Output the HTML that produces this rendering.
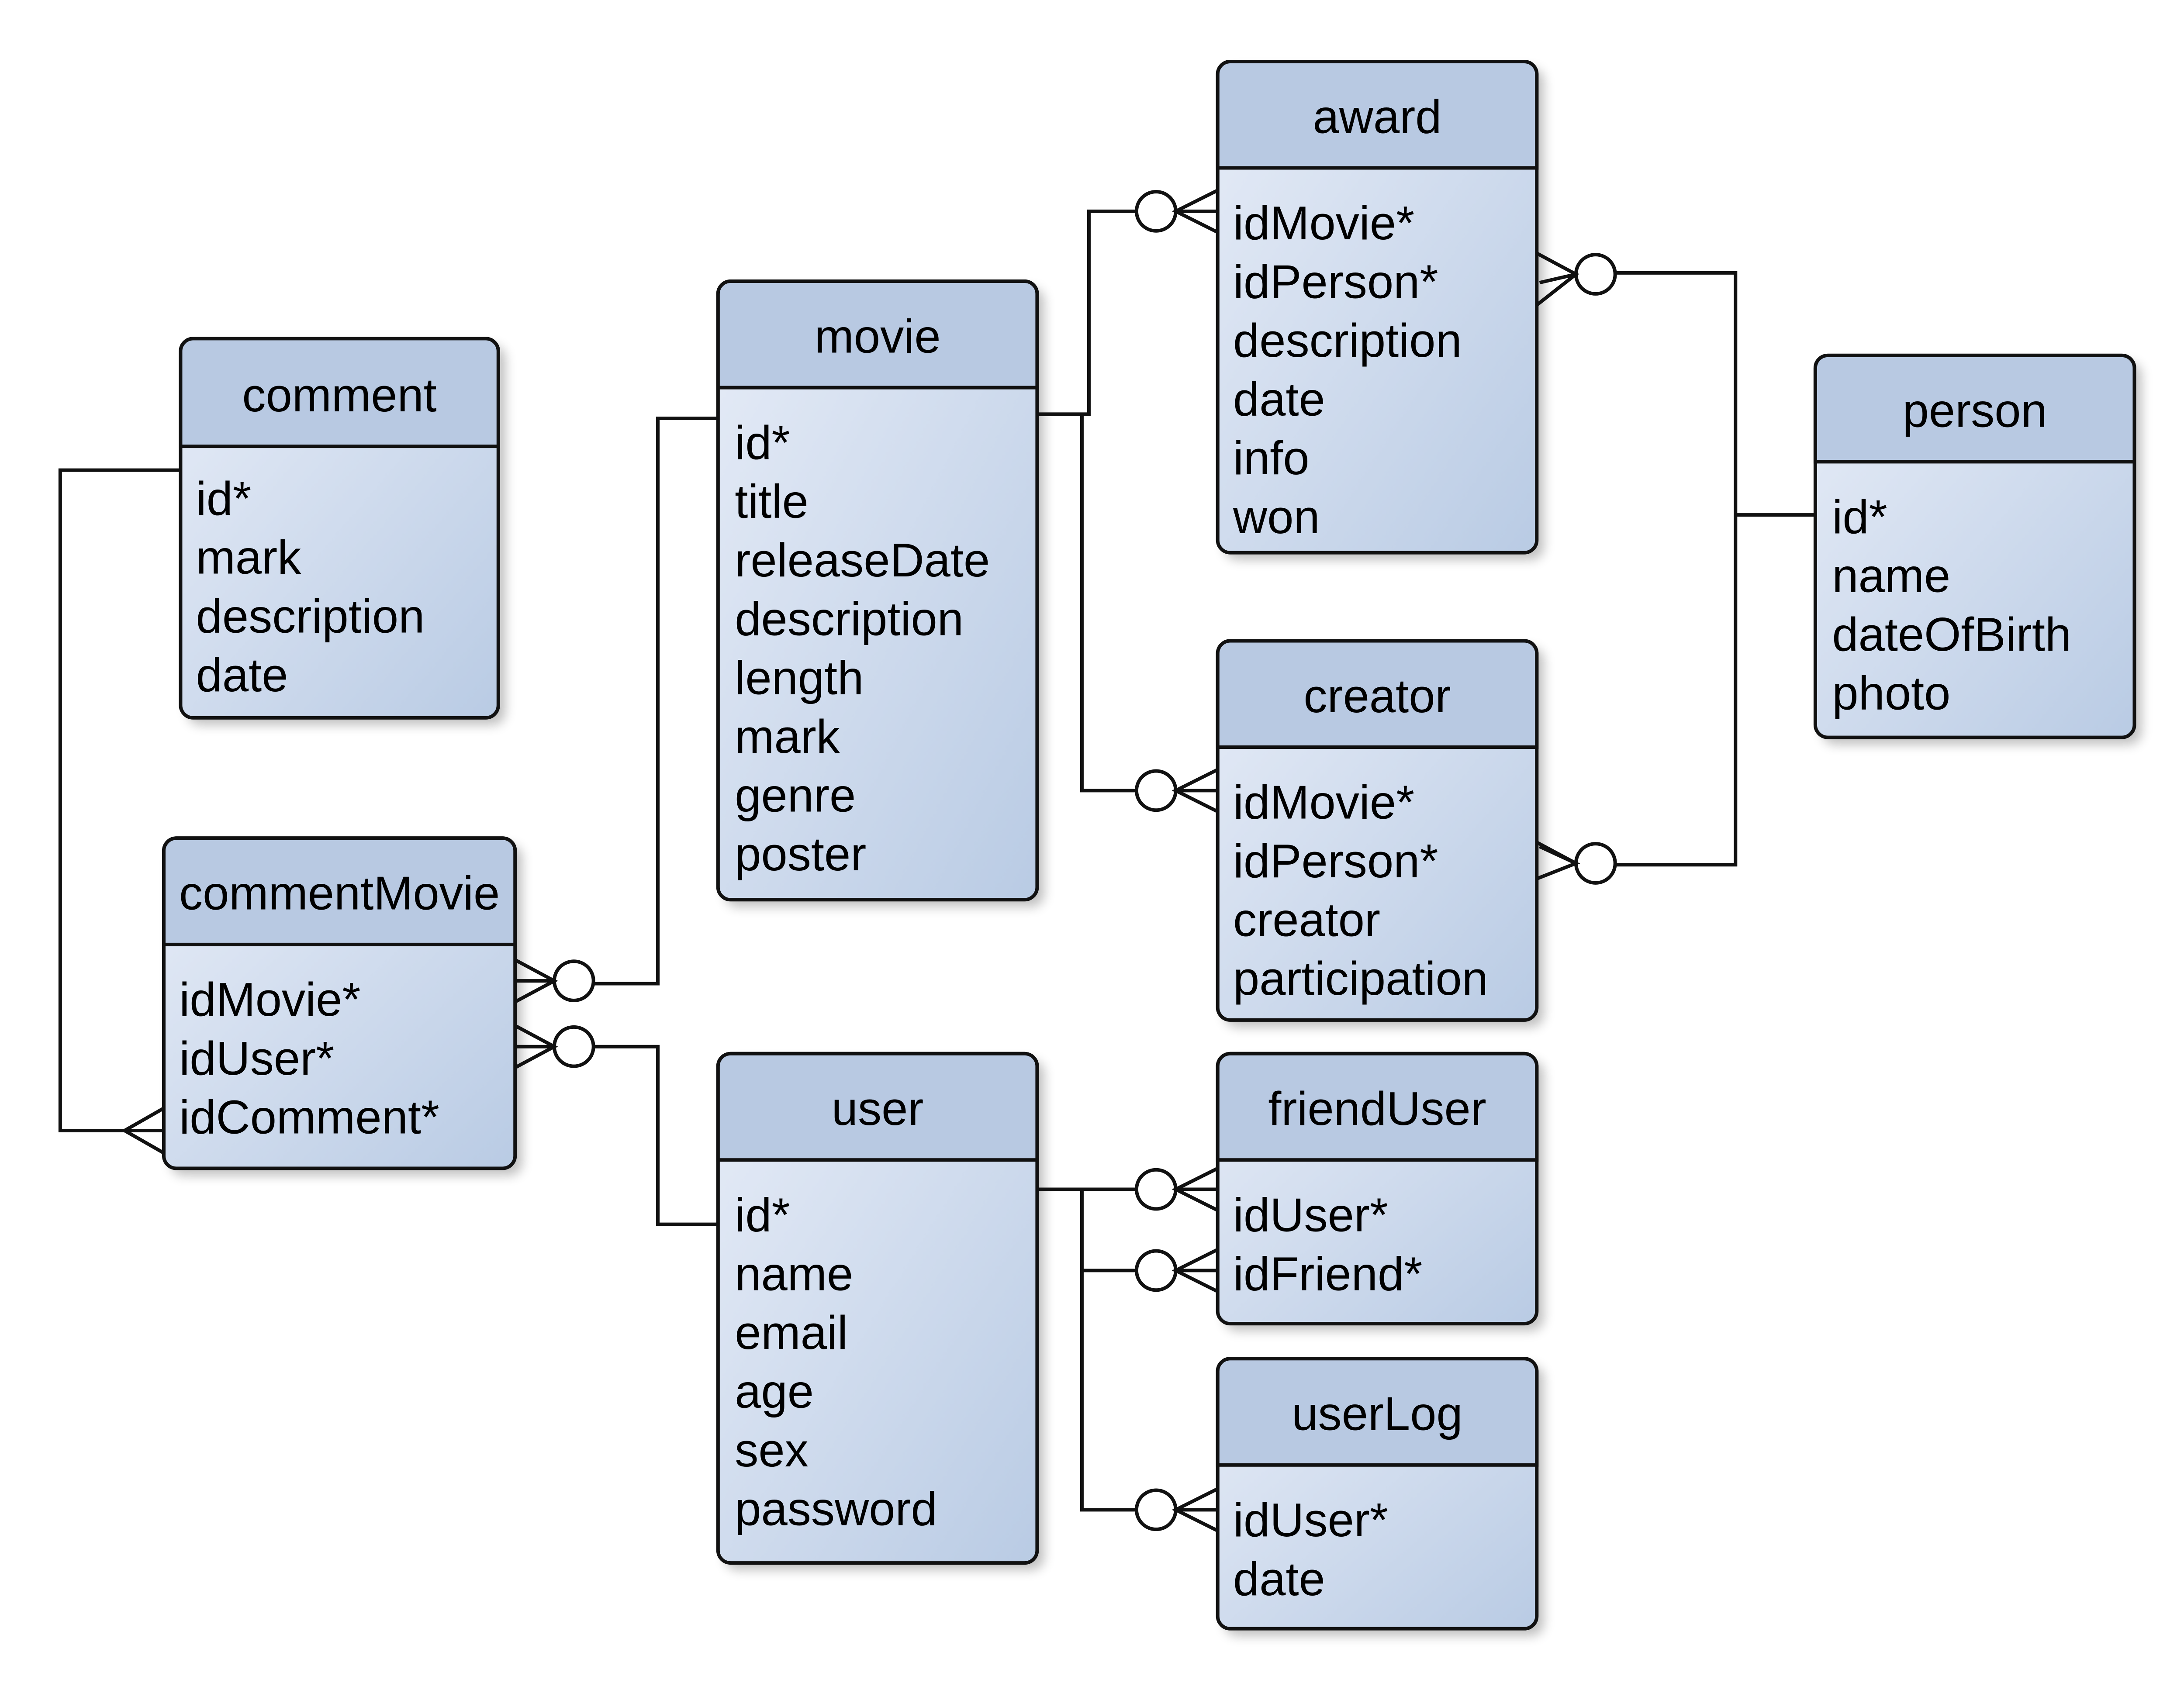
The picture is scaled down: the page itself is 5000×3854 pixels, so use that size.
<!DOCTYPE html>
<html><head><meta charset="utf-8"><style>
html,body{margin:0;padding:0;background:#fff;}
svg{display:block;}
text{font-family:"Liberation Sans",sans-serif;fill:#000;}
</style></head><body>
<svg width="5000" height="3854" viewBox="0 0 1560.4 1202.8" xmlns="http://www.w3.org/2000/svg">
<defs>
<linearGradient id="g" x1="0" y1="0" x2="1" y2="1">
<stop offset="0" stop-color="#e6ecf7"/><stop offset="1" stop-color="#b9cbe4"/>
</linearGradient>
<filter id="sh" x="-10%" y="-10%" width="130%" height="130%"><feGaussianBlur stdDeviation="4"/></filter>
</defs>
<g id="tables" font-size="33.8">
<g>
<rect x="134" y="247" width="227" height="271" rx="9" fill="#000" opacity="0.25" filter="url(#sh)"/>
<rect x="129" y="242" width="227" height="271" rx="9" fill="url(#g)" stroke="#111" stroke-width="2.5"/>
<path d="M129 319 V251 a9 9 0 0 1 9 -9 H347 a9 9 0 0 1 9 9 V319 Z" fill="#b8c9e2" stroke="#111" stroke-width="2.5"/>
<text x="242.5" y="294" text-anchor="middle">comment</text>
<text x="140" y="368">id*</text><text x="140" y="410">mark</text><text x="140" y="452">description</text><text x="140" y="494">date</text>
</g>
<g>
<rect x="518" y="206" width="228" height="442" rx="9" fill="#000" opacity="0.25" filter="url(#sh)"/>
<rect x="513" y="201" width="228" height="442" rx="9" fill="url(#g)" stroke="#111" stroke-width="2.5"/>
<path d="M513 277 V210 a9 9 0 0 1 9 -9 H732 a9 9 0 0 1 9 9 V277 Z" fill="#b8c9e2" stroke="#111" stroke-width="2.5"/>
<text x="627" y="252" text-anchor="middle">movie</text>
<text x="525" y="328">id*</text><text x="525" y="370">title</text><text x="525" y="412">releaseDate</text><text x="525" y="454">description</text><text x="525" y="496">length</text><text x="525" y="538">mark</text><text x="525" y="580">genre</text><text x="525" y="622">poster</text>
</g>
<g>
<rect x="875" y="49" width="228" height="351" rx="9" fill="#000" opacity="0.25" filter="url(#sh)"/>
<rect x="870" y="44" width="228" height="351" rx="9" fill="url(#g)" stroke="#111" stroke-width="2.5"/>
<path d="M870 120 V53 a9 9 0 0 1 9 -9 H1089 a9 9 0 0 1 9 9 V120 Z" fill="#b8c9e2" stroke="#111" stroke-width="2.5"/>
<text x="984" y="95" text-anchor="middle">award</text>
<text x="881" y="171">idMovie*</text><text x="881" y="213">idPerson*</text><text x="881" y="255">description</text><text x="881" y="297">date</text><text x="881" y="339">info</text><text x="881" y="381">won</text>
</g>
<g>
<rect x="875" y="463" width="228" height="271" rx="9" fill="#000" opacity="0.25" filter="url(#sh)"/>
<rect x="870" y="458" width="228" height="271" rx="9" fill="url(#g)" stroke="#111" stroke-width="2.5"/>
<path d="M870 534 V467 a9 9 0 0 1 9 -9 H1089 a9 9 0 0 1 9 9 V534 Z" fill="#b8c9e2" stroke="#111" stroke-width="2.5"/>
<text x="984" y="509" text-anchor="middle">creator</text>
<text x="881" y="585">idMovie*</text><text x="881" y="627">idPerson*</text><text x="881" y="669">creator</text><text x="881" y="711">participation</text>
</g>
<g>
<rect x="1302" y="259" width="228" height="273" rx="9" fill="#000" opacity="0.25" filter="url(#sh)"/>
<rect x="1297" y="254" width="228" height="273" rx="9" fill="url(#g)" stroke="#111" stroke-width="2.5"/>
<path d="M1297 330 V263 a9 9 0 0 1 9 -9 H1516 a9 9 0 0 1 9 9 V330 Z" fill="#b8c9e2" stroke="#111" stroke-width="2.5"/>
<text x="1411" y="305" text-anchor="middle">person</text>
<text x="1309" y="381">id*</text><text x="1309" y="423">name</text><text x="1309" y="465">dateOfBirth</text><text x="1309" y="507">photo</text>
</g>
<g>
<rect x="122" y="604" width="251" height="236" rx="9" fill="#000" opacity="0.25" filter="url(#sh)"/>
<rect x="117" y="599" width="251" height="236" rx="9" fill="url(#g)" stroke="#111" stroke-width="2.5"/>
<path d="M117 675 V608 a9 9 0 0 1 9 -9 H359 a9 9 0 0 1 9 9 V675 Z" fill="#b8c9e2" stroke="#111" stroke-width="2.5"/>
<text x="242.5" y="650" text-anchor="middle">commentMovie</text>
<text x="128" y="726">idMovie*</text><text x="128" y="768">idUser*</text><text x="128" y="810">idComment*</text>
</g>
<g>
<rect x="518" y="758" width="228" height="364" rx="9" fill="#000" opacity="0.25" filter="url(#sh)"/>
<rect x="513" y="753" width="228" height="364" rx="9" fill="url(#g)" stroke="#111" stroke-width="2.5"/>
<path d="M513 829 V762 a9 9 0 0 1 9 -9 H732 a9 9 0 0 1 9 9 V829 Z" fill="#b8c9e2" stroke="#111" stroke-width="2.5"/>
<text x="627" y="804" text-anchor="middle">user</text>
<text x="525" y="880">id*</text><text x="525" y="922">name</text><text x="525" y="964">email</text><text x="525" y="1006">age</text><text x="525" y="1048">sex</text><text x="525" y="1090">password</text>
</g>
<g>
<rect x="875" y="758" width="228" height="193" rx="9" fill="#000" opacity="0.25" filter="url(#sh)"/>
<rect x="870" y="753" width="228" height="193" rx="9" fill="url(#g)" stroke="#111" stroke-width="2.5"/>
<path d="M870 829 V762 a9 9 0 0 1 9 -9 H1089 a9 9 0 0 1 9 9 V829 Z" fill="#b8c9e2" stroke="#111" stroke-width="2.5"/>
<text x="984" y="804" text-anchor="middle">friendUser</text>
<text x="881" y="880">idUser*</text><text x="881" y="922">idFriend*</text>
</g>
<g>
<rect x="875" y="976" width="228" height="193" rx="9" fill="#000" opacity="0.25" filter="url(#sh)"/>
<rect x="870" y="971" width="228" height="193" rx="9" fill="url(#g)" stroke="#111" stroke-width="2.5"/>
<path d="M870 1047 V980 a9 9 0 0 1 9 -9 H1089 a9 9 0 0 1 9 9 V1047 Z" fill="#b8c9e2" stroke="#111" stroke-width="2.5"/>
<text x="984" y="1022" text-anchor="middle">userLog</text>
<text x="881" y="1098">idUser*</text><text x="881" y="1140">date</text>
</g>
</g>
<g fill="none" stroke="#111" stroke-width="2.5">
<path d="M129 336 H43 V808 H117"/>
<path d="M117 792 L89 808 L117 824"/>
<path d="M513 299 H470 V703 H424"/>
<circle cx="410" cy="701" r="14" fill="#fff"/>
<path d="M368 686 L396 701 L368 716 M368 701 H396"/>
<path d="M513 875 H470 V748 H424"/>
<circle cx="410" cy="748" r="14" fill="#fff"/>
<path d="M368 733 L396 748 L368 763 M368 748 H396"/>
<path d="M741 296 H778 V151 H812"/>
<circle cx="826" cy="151" r="14" fill="#fff"/>
<path d="M870 136 L840 151 L870 166 M840 151 H870"/>
<path d="M773 296 V565 H812"/>
<circle cx="826" cy="565" r="14" fill="#fff"/>
<path d="M870 550 L840 565 L870 580 M840 565 H870"/>
<path d="M1297 368 H1240 V195 H1154"/>
<path d="M1240 368 V618 H1154"/>
<circle cx="1140" cy="196" r="14" fill="#fff"/>
<path d="M1098 181 L1126 196 L1098 218 M1126 196 L1100 202"/>
<circle cx="1140" cy="617" r="14" fill="#fff"/>
<path d="M1098 602 L1126 617 L1098 628 M1126 617 L1100 605"/>
<path d="M741 850 H812"/>
<circle cx="826" cy="850" r="14" fill="#fff"/>
<path d="M870 835 L840 850 L870 865 M840 850 H870"/>
<path d="M773 850 V1079 H812 M773 908 H812"/>
<circle cx="826" cy="908" r="14" fill="#fff"/>
<path d="M870 893 L840 908 L870 923 M840 908 H870"/>
<circle cx="826" cy="1079" r="14" fill="#fff"/>
<path d="M870 1064 L840 1079 L870 1094 M840 1079 H870"/>
</g>
</svg>
</body></html>
